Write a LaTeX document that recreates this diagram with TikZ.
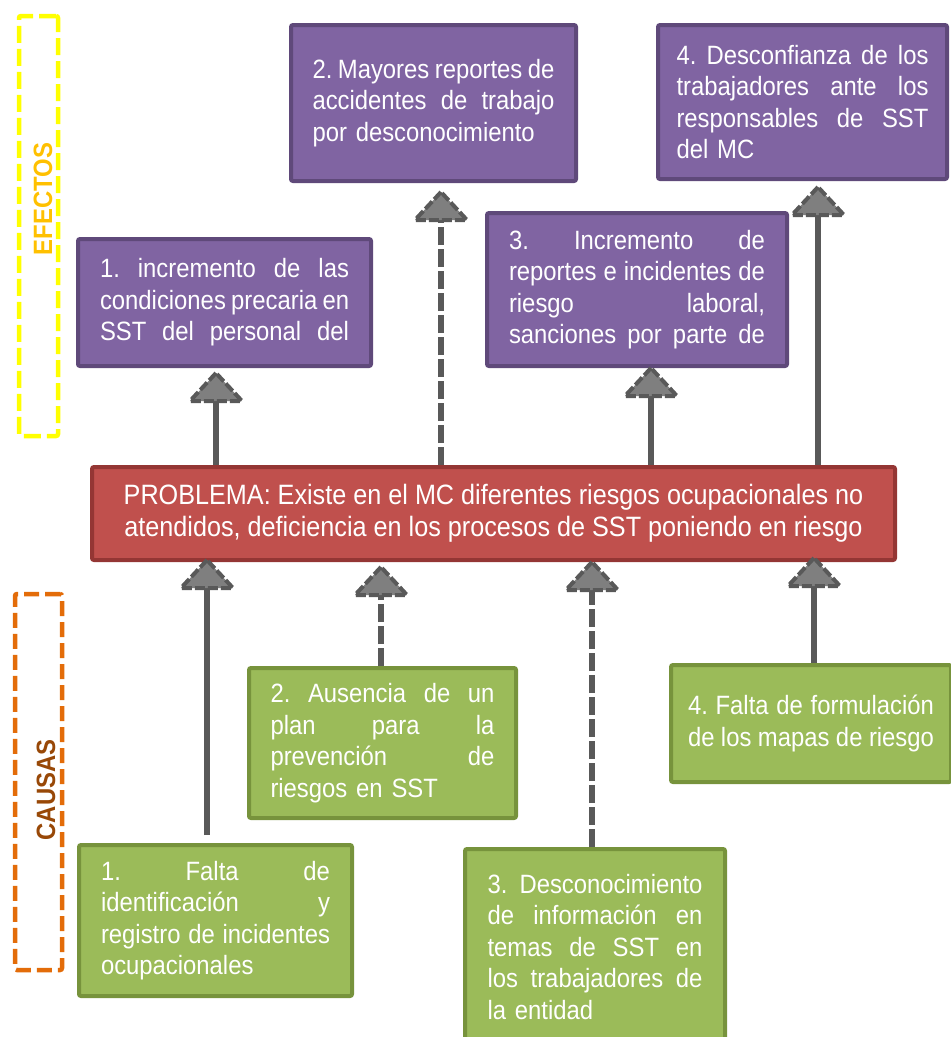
\documentclass[tikz,border=0pt]{standalone}
\usepackage{fontspec}
\setmainfont{Liberation Sans}[FakeStretch=0.9]
\usetikzlibrary{calc}
\frenchspacing

\definecolor{efFill}{HTML}{8064A2}
\definecolor{efLine}{HTML}{5F497A}
\definecolor{caFill}{HTML}{9BBB59}
\definecolor{caLine}{HTML}{77933C}
\definecolor{prFill}{HTML}{C0504D}
\definecolor{prLine}{HTML}{943634}
\definecolor{shaftCol}{HTML}{595959}
\definecolor{headCol}{HTML}{7F7F7F}
\definecolor{efFrame}{HTML}{FFFF00}
\definecolor{efText}{HTML}{FFC000}
\definecolor{caFrame}{HTML}{E36C09}
\definecolor{caText}{HTML}{984807}

% one justified line spread over the current paragraph width
\newcommand\jl[1]{\noindent\hbox to \hsize{\spaceskip=0.25em plus 1fil minus 0.05em\relax #1}\par}

\tikzset{
  boxtext/.style={text=white, font=\fontsize{26.5}{31.5}\selectfont, align=left, inner sep=0pt},
  effectbox/.style={boxtext, draw=efLine, fill=efFill, line width=4pt, rounded corners=2pt},
  causebox/.style={boxtext, draw=caLine, fill=caFill, line width=4pt, rounded corners=2pt},
  problembox/.style={draw=prLine, fill=prFill, line width=4pt, rounded corners=2pt,
    text=white, font=\fontsize{28}{32}\selectfont, align=center},
  shaft/.style={draw=shaftCol, line width=5.5pt},
  dashedshaft/.style={shaft, dash pattern=on 18pt off 4pt},
  headfill/.style={fill=headCol},
  headline/.style={draw=shaftCol, line width=4pt, dash pattern=on 10pt off 3pt},
  frameef/.style={draw=efFrame, line width=4.5pt, dash pattern=on 17pt off 6pt, rounded corners=2pt},
  frameca/.style={draw=caFrame, line width=4.5pt, dash pattern=on 15pt off 6pt, rounded corners=2pt},
  sidelabel/.style={font=\bfseries\fontsize{26.5}{30}\selectfont, rotate=90, inner sep=0pt}
}

% triangular head whose tip sits on the given coordinate
\newcommand\headat[1]{%
  \fill[headfill] (#1) -- ++(-26,28) -- ++(52,0) -- cycle;
  \draw[headline] (#1) -- ++(-26,28) -- ++(52,0) -- cycle;}

\begin{document}
\begin{tikzpicture}[x=1pt,y=-1pt]
\useasboundingbox (0,0) rectangle (951,1037);
\clip (0,0) rectangle (951,1037);

% side frames
\node[frameef, minimum width=39pt, minimum height=420pt] (fef) at (38.5,226) {};
\node[sidelabel, text=efText] (lef) at (43,199) {EFECTOS};
\node[frameca, minimum width=47pt, minimum height=376pt] (fca) at (38.5,782) {};
\node[sidelabel, text=caText] (lca) at (46,790) {CAUSAS};

% effects
\node[effectbox, minimum width=293pt, minimum height=127pt, text width=249pt] (e1) at (224.5,302.5)
  {\jl{1. incremento de las}\jl{condiciones precaria en}\jl{SST del personal del}};
\node[effectbox, minimum width=285pt, minimum height=156pt, text width=242pt] (e2) at (433.5,103)
  {\jl{2. Mayores reportes de}\jl{accidentes de trabajo}\noindent por desconocimiento};
\node[effectbox, minimum width=300pt, minimum height=153pt, text width=256pt] (e3) at (637,289.5)
  {\jl{3. Incremento de}\jl{reportes e incidentes de}\jl{riesgo laboral,}\jl{sanciones por parte de}};
\node[effectbox, minimum width=289pt, minimum height=154pt, text width=252pt] (e4) at (802.5,102)
  {\jl{4. Desconfianza de los}\jl{trabajadores ante los}\jl{responsables de SST}\noindent del MC};

% central problem
\node[problembox, minimum width=803pt, minimum height=93pt] (prob) at (493.5,513.5)
  {PROBLEMA: Existe en el MC diferentes riesgos ocupacionales no\\atendidos, deficiencia en los procesos de SST poniendo en riesgo};

% causes
\node[causebox, minimum width=273pt, minimum height=151pt, text width=229pt] (c1) at (215.5,920.5)
  {\jl{1. Falta de}\jl{identificación y}\jl{registro de incidentes}\noindent ocupacionales};
\node[causebox, minimum width=267pt, minimum height=150pt, text width=224pt] (c2) at (382.5,743)
  {\jl{2. Ausencia de un}\jl{plan para la}\jl{prevención de}\noindent riesgos en SST};
\node[causebox, minimum width=260pt, minimum height=196pt, text width=215pt] (c3) at (595,947)
  {\jl{3. Desconocimiento}\jl{de información en}\jl{temas de SST en}\jl{los trabajadores de}\noindent la entidad};
\node[causebox, minimum width=280pt, minimum height=117pt, text width=246pt] (c4) at (811,723.5)
  {\jl{4. Falta de formulación}\jl{de los mapas de riesgo}};

% arrow tips
\coordinate (he1) at (216,373);
\coordinate (he2) at (441,192);
\coordinate (he3) at (651,368);
\coordinate (he4) at (818,187);
\coordinate (hc1) at (207,560);
\coordinate (hc2) at (381,567);
\coordinate (hc3) at (592,562);
\coordinate (hc4) at (814,558);

% problem -> effects
\draw[shaft] (prob.north -| he1) -- ($(he1)+(0,28)$);
\draw[dashedshaft] (prob.north -| he2) -- ($(he2)+(0,28)$);
\draw[shaft] (prob.north -| he3) -- ($(he3)+(0,28)$);
\draw[shaft] (prob.north -| he4) -- ($(he4)+(0,28)$);
\headat{he1}\headat{he2}\headat{he3}\headat{he4}

% causes -> problem
\draw[shaft] ($(c1.north -| hc1)+(0,-8)$) -- ($(hc1)+(0,28)$);
\draw[dashedshaft] (c2.north -| hc2) -- ($(hc2)+(0,28)$);
\draw[dashedshaft] (c3.north -| hc3) -- ($(hc3)+(0,28)$);
\draw[shaft] (c4.north -| hc4) -- ($(hc4)+(0,28)$);
\headat{hc1}\headat{hc2}\headat{hc3}\headat{hc4}
\end{tikzpicture}
\end{document}
